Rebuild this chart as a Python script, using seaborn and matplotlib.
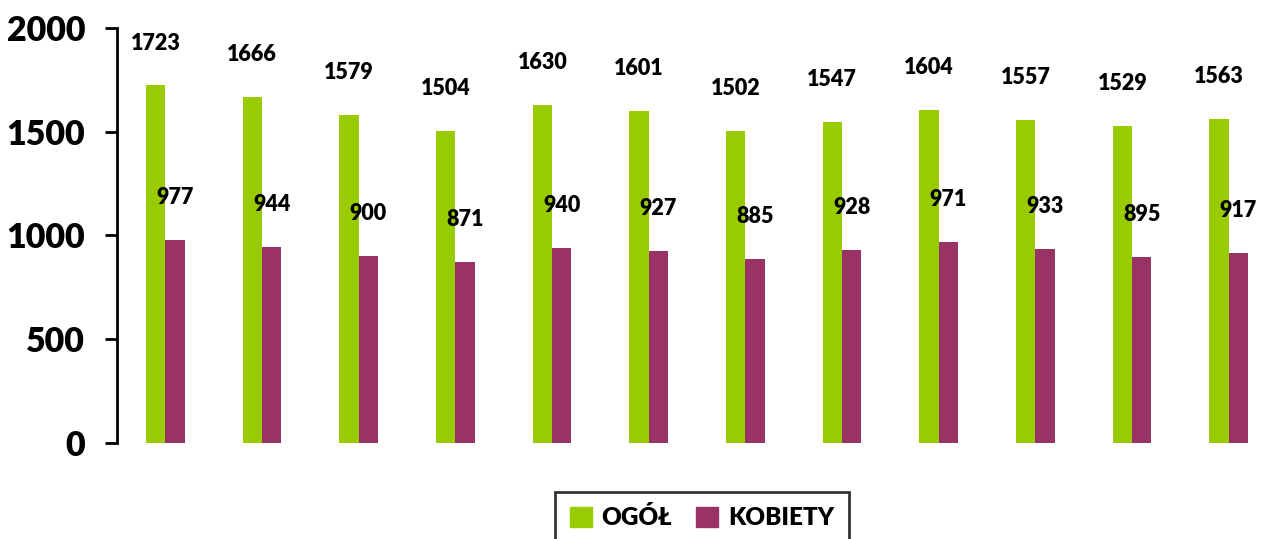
import pandas as pd
import seaborn as sns
import matplotlib.pyplot as plt

# dane
groups = [str(i) for i in range(1, 13)]
ogol = [1723, 1666, 1579, 1504, 1630, 1601, 1502, 1547, 1604, 1557, 1529, 1563]
kobiety = [977, 944, 900, 871, 940, 927, 885, 928, 971, 933, 895, 917]
series = ["OGÓŁ", "KOBIETY"]
colors = ["#99CC00", "#993366"]

df = pd.DataFrame({
    "grupa": groups * 2,
    "seria": [series[0]] * len(groups) + [series[1]] * len(groups),
    "wartosc": ogol + kobiety,
})

sns.set_style("white")
plt.rcParams["font.family"] = ["Lato", "DejaVu Sans"]
plt.rcParams["font.weight"] = "bold"
plt.rcParams["text.color"] = "black"
plt.rcParams["ytick.color"] = "black"

fig = plt.figure(figsize=(12.74, 5.39), dpi=100)
ax = fig.add_axes([117 / 1274, 96 / 539, 1160 / 1274, 415 / 539])

sns.barplot(
    data=df,
    x="grupa",
    y="wartosc",
    hue="seria",
    palette=colors,
    width=0.4,
    gap=0,
    saturation=1,
    linewidth=0,
    ax=ax,
    legend=False,
)

for container in ax.containers:
    ax.bar_label(
        container,
        fmt="%d",
        padding=23,
        fontsize=15.5,
        fontweight="heavy",
        color="black",
    )

ax.set_xlim(-0.5, 11.5)
ax.set_ylim(0, 2000)
ax.set_yticks([0, 500, 1000, 1500, 2000])
ax.set_xticks([])
ax.set_xlabel("")
ax.set_ylabel("")

for side in ["top", "right", "bottom"]:
    ax.spines[side].set_visible(False)
ax.spines["left"].set_linewidth(2)
ax.spines["left"].set_color("black")

ax.tick_params(
    axis="y",
    direction="out",
    length=9,
    width=2,
    color="black",
    labelsize=24.5,
    pad=14,
    left=True,
)
for label in ax.get_yticklabels():
    label.set_fontweight("heavy")

handles = [
    plt.Rectangle((0, 0), 1, 1, color=c) for c in colors
]
leg = fig.legend(
    handles,
    series,
    loc="upper center",
    bbox_to_anchor=(0.551, 0.11),
    ncol=2,
    frameon=True,
    fancybox=False,
    edgecolor="black",
    handlelength=0.9,
    handleheight=0.9,
    handletextpad=0.4,
    columnspacing=1.0,
    borderpad=0.6,
    prop={"size": 17.5, "weight": "heavy"},
)
leg.get_frame().set_linewidth(2)

fig.savefig("out.png", dpi=100)
